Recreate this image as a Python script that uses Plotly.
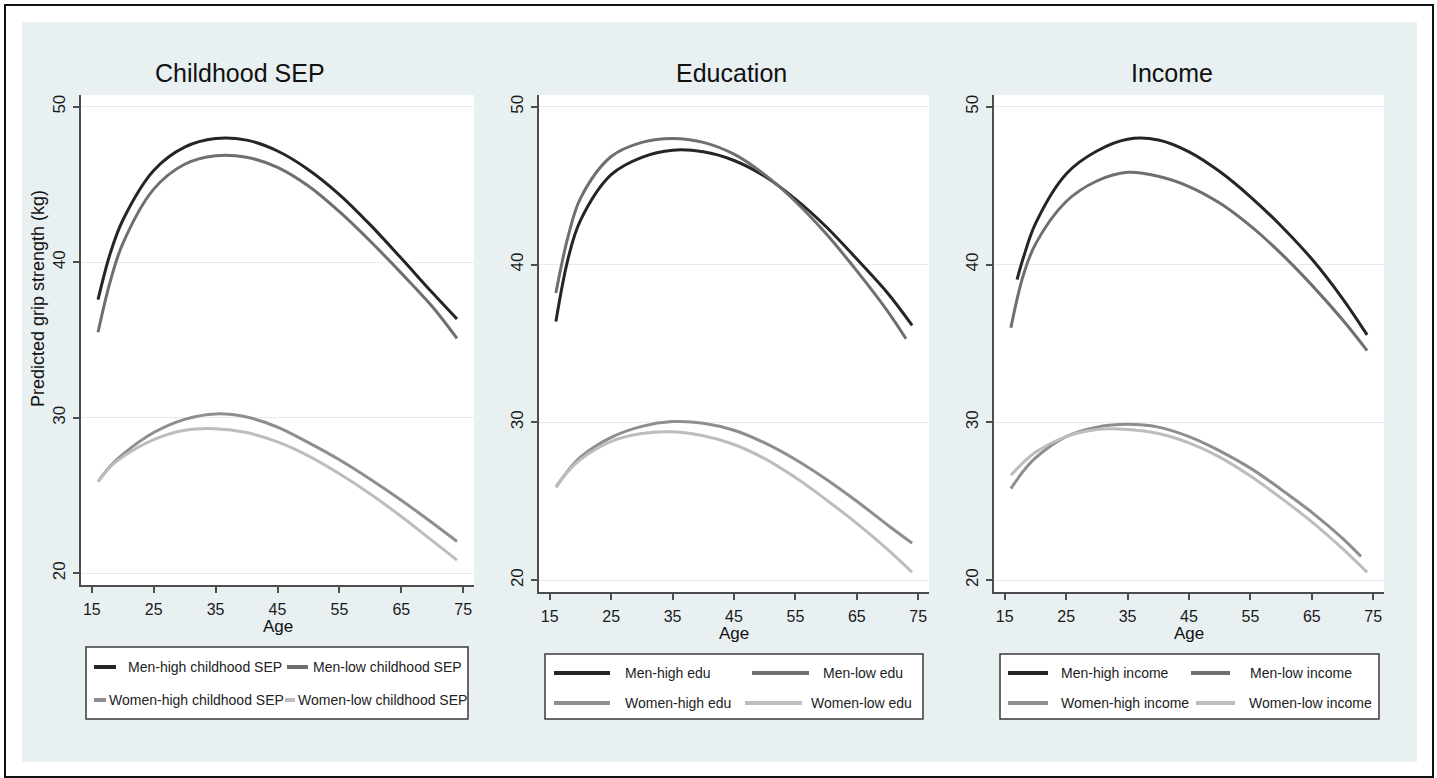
import plotly.graph_objects as go

W, H = 1437, 778

# ---------------------------------------------------------------- data
ages = [16, 18, 20, 25, 30, 35, 40, 45, 50, 55, 60, 65, 70, 74]
ages_to73 = [16, 18, 20, 25, 30, 35, 40, 45, 50, 55, 60, 65, 70, 73]
ages_from17 = [17, 18, 20, 25, 30, 35, 40, 45, 50, 55, 60, 65, 70, 74]

panel_titles = ["Childhood SEP", "Education", "Income"]
x_ticks = [15, 25, 35, 45, 55, 65, 75]
y_ticks = [20, 30, 40, 50]
y_title = "Predicted grip strength (kg)"
x_title = "Age"

# Childhood socioeconomic position
sep_names = ["Men-high childhood SEP", "Men-low childhood SEP",
             "Women-high childhood SEP", "Women-low childhood SEP"]
sep_men_high = [37.6, 40.6, 42.7, 45.9, 47.4, 47.95, 47.85, 47.15, 45.95, 44.35, 42.4, 40.25, 38.05, 36.35]
sep_men_low = [35.5, 38.8, 41.2, 44.7, 46.3, 46.85, 46.75, 46.1, 44.9, 43.25, 41.35, 39.3, 37.15, 35.1]
sep_women_high = [25.9, 26.9, 27.65, 29.05, 29.9, 30.25, 30.05, 29.4, 28.4, 27.3, 26.05, 24.7, 23.25, 22.05]
sep_women_low = [25.9, 26.85, 27.5, 28.6, 29.2, 29.3, 29.05, 28.45, 27.55, 26.4, 25.1, 23.65, 22.1, 20.85]

# Education
edu_names = ["Men-high edu", "Men-low edu", "Women-high edu", "Women-low edu"]
edu_men_high = [36.4, 40.4, 42.8, 45.7, 46.8, 47.25, 47.15, 46.6, 45.6, 44.15, 42.4, 40.35, 38.2, 36.15]
edu_men_low = [38.2, 41.8, 44.2, 46.85, 47.75, 48.0, 47.75, 47.0, 45.7, 44.0, 41.95, 39.6, 37.05, 35.3]
edu_women_high = [25.9, 26.95, 27.8, 29.05, 29.75, 30.05, 29.95, 29.5, 28.7, 27.65, 26.4, 25.0, 23.5, 22.35]
edu_women_low = [25.9, 26.9, 27.65, 28.8, 29.3, 29.4, 29.15, 28.6, 27.7, 26.5, 25.1, 23.6, 21.95, 20.5]

# Income
inc_names = ["Men-high income", "Men-low income", "Women-high income", "Women-low income"]
inc_men_high = [39.05, 40.4, 42.6, 45.75, 47.2, 47.95, 47.9, 47.15, 45.9, 44.3, 42.45, 40.35, 37.85, 35.55]
inc_men_low = [36.0, 39.3, 41.3, 44.0, 45.3, 45.85, 45.6, 44.95, 43.9, 42.45, 40.7, 38.7, 36.5, 34.55]
inc_women_high = [25.8, 26.9, 27.75, 29.1, 29.7, 29.88, 29.7, 29.1, 28.2, 27.1, 25.75, 24.3, 22.65, 21.5]
inc_women_low = [26.65, 27.45, 28.1, 29.1, 29.55, 29.55, 29.3, 28.7, 27.8, 26.6, 25.2, 23.7, 22.0, 20.5]

# ---------------------------------------------------------------- styling
FONT = "Arial, 'Liberation Sans', sans-serif"
SERIES_COLORS = ["#252525", "#6f6f6f", "#8e8e8e", "#bdbdbd"]
AXIS_COLOR = "#4d4d4d"
GRID_COLOR = "#E3EDF0"
REGION_BG = "#E8F0F2"


def fx(x):
    return x / W


def fy(y):
    return 1 - y / H


# plot regions in pixels (left, right, top, bottom)
regions = [(81, 474, 95, 585), (539, 929, 95, 592), (994, 1384, 95, 592)]

panels = [
    dict(names=sep_names,
         series=[(ages, sep_men_high), (ages, sep_men_low),
                 (ages, sep_women_high), (ages, sep_women_low)]),
    dict(names=edu_names,
         series=[(ages, edu_men_high), (ages_to73, edu_men_low),
                 (ages, edu_women_high), (ages, edu_women_low)]),
    dict(names=inc_names,
         series=[(ages_from17, inc_men_high), (ages, inc_men_low),
                 (ages_to73, inc_women_high), (ages, inc_women_low)]),
]

fig = go.Figure()
layout = dict(
    width=W, height=H,
    margin=dict(l=0, r=0, t=0, b=0),
    paper_bgcolor="white",
    plot_bgcolor="white",
    showlegend=False,
    font=dict(family=FONT, color="#1a1a1a"),
)

shapes = [
    # graph region background
    dict(type="rect", xref="paper", yref="paper", layer="below",
         x0=fx(22), x1=fx(1417), y0=fy(762), y1=fy(22),
         fillcolor=REGION_BG, line=dict(width=0)),
    # outer frame
    dict(type="rect", xref="paper", yref="paper",
         x0=fx(5), x1=fx(1433), y0=fy(777), y1=fy(5),
         line=dict(color="#111111", width=2)),
]
annotations = []

for i, (panel, reg) in enumerate(zip(panels, regions)):
    n = "" if i == 0 else str(i + 1)
    left, right, top, bottom = reg
    # white plot area
    shapes.append(dict(type="rect", xref="paper", yref="paper", layer="below",
                       x0=fx(left), x1=fx(right), y0=fy(bottom), y1=fy(top),
                       fillcolor="white", line=dict(width=0)))
    for (xs, ys), name, color in zip(panel["series"], panel["names"], SERIES_COLORS):
        fig.add_trace(go.Scatter(
            x=xs, y=ys, name=name, mode="lines",
            line=dict(color=color, width=3, shape="spline", smoothing=1.0),
            xaxis="x" + n, yaxis="y" + n, hoverinfo="x+y+name",
        ))
    layout["xaxis" + n] = dict(
        domain=[fx(left), fx(right)], anchor="y" + n,
        range=[13.25, 76.75], tickvals=x_ticks,
        ticks="outside", ticklen=6, tickwidth=1.5, tickcolor=AXIS_COLOR,
        showline=True, linecolor=AXIS_COLOR, linewidth=1.5,
        showgrid=False, zeroline=False,
        tickfont=dict(size=16, family=FONT, color="#1a1a1a"),
        ticklabelstandoff=3,
    )
    layout["yaxis" + n] = dict(
        domain=[fy(bottom), fy(top)], anchor="x" + n,
        range=[19.25, 50.75], tickvals=y_ticks, tickangle=-90,
        ticks="outside", ticklen=6, tickwidth=1.5, tickcolor=AXIS_COLOR,
        showline=True, linecolor=AXIS_COLOR, linewidth=1.5,
        showgrid=True, gridcolor=GRID_COLOR, gridwidth=1.2, zeroline=False,
        tickfont=dict(size=17, family=FONT, color="#1a1a1a"),
        ticklabelstandoff=1,
    )

# panel titles
title_pos = [(240, 73), (731, 73), (1172, 73)]
for text, (tx, ty) in zip(panel_titles, title_pos):
    annotations.append(dict(text=text, x=fx(tx), y=fy(ty), xref="paper", yref="paper",
                            showarrow=False, xanchor="center", yanchor="middle",
                            font=dict(size=25, family=FONT, color="#111111")))

# x axis titles
for (left, right, top, bottom), ay in zip(regions, [626, 633, 633]):
    annotations.append(dict(text=x_title, x=fx((left + right) / 2), y=fy(ay),
                            xref="paper", yref="paper", showarrow=False,
                            xanchor="center", yanchor="middle",
                            font=dict(size=17, family=FONT, color="#111111")))

# y axis title (first panel only)
annotations.append(dict(text=y_title, x=fx(38), y=fy(299), xref="paper", yref="paper",
                        showarrow=False, textangle=-90, xanchor="center", yanchor="middle",
                        font=dict(size=18, family=FONT, color="#111111")))

# legend boxes: (left, right, top, bottom, row ys, entries[(key x0, key x1, text x)])
legend_boxes = [
    (86, 468, 647, 719, (667, 700),
     [(94, 116, 126), (287, 308, 311), (94, 106, 107), (285, 295, 296)]),
    (545, 923, 654, 719, (673, 703),
     [(554, 610, 623), (752, 809, 821), (554, 610, 623), (745, 802, 809)]),
    (1000, 1379, 654, 719, (673, 703),
     [(1008, 1048, 1059), (1191, 1230, 1248), (1008, 1048, 1059), (1196, 1235, 1247)]),
]
for panel, (l, r, t, b, rows, entries) in zip(panels, legend_boxes):
    shapes.append(dict(type="rect", xref="paper", yref="paper",
                       x0=fx(l), x1=fx(r), y0=fy(b), y1=fy(t),
                       fillcolor="white", line=dict(color="#3a3a3a", width=1.5)))
    for k, ((kx0, kx1, tx), name, color) in enumerate(zip(entries, panel["names"], SERIES_COLORS)):
        ry = rows[k // 2]
        shapes.append(dict(type="line", xref="paper", yref="paper",
                           x0=fx(kx0), x1=fx(kx1), y0=fy(ry), y1=fy(ry),
                           line=dict(color=color, width=4)))
        annotations.append(dict(text=name, x=fx(tx), y=fy(ry), xref="paper", yref="paper",
                                showarrow=False, xanchor="left", yanchor="middle",
                                font=dict(size=14, family=FONT, color="#222222")))

layout["shapes"] = shapes
layout["annotations"] = annotations
fig.update_layout(**layout)
fig.write_html("out.html")
